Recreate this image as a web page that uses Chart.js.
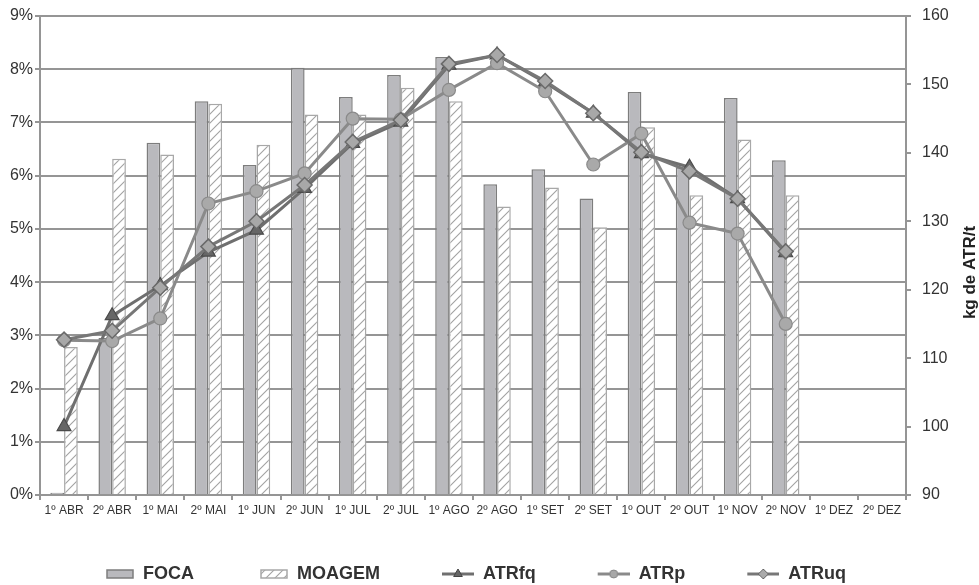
<!DOCTYPE html>
<html>
<head>
<meta charset="utf-8">
<script src="https://cdn.jsdelivr.net/npm/chart.js@4.4.1/dist/chart.umd.min.js"></script>
<style>
  html, body { margin: 0; padding: 0; background: #fff; }
  #wrap { width: 979px; height: 585px; }
</style>
</head>
<body>
<div id="wrap"><canvas id="chart" width="979" height="585"></canvas></div>
<script>
// dados
const categories = ['1º ABR', '2º ABR', '1º MAI', '2º MAI', '1º JUN', '2º JUN', '1º JUL', '2º JUL', '1º AGO',
  '2º AGO', '1º SET', '2º SET', '1º OUT', '2º OUT', '1º NOV', '2º NOV', '1º DEZ', '2º DEZ'];
const foca   = [0.04, 2.95, 6.62, 7.40, 6.20, 8.03, 7.48, 7.89, 8.23, 5.84, 6.12, 5.57, 7.57, 6.16, 7.46, 6.29, null, null];
const moagem = [2.78, 6.32, 6.40, 7.35, 6.58, 7.15, 7.15, 7.65, 7.40, 5.42, 5.78, 5.03, 6.91, 5.63, 6.68, 5.63, null, null];
const atrFq  = [100.0, 116.2, 120.6, 125.5, 128.7, 134.8, 141.4, 144.5, 152.8, 154.3, 150.3, 145.8, 139.9, 137.9, 133.3, 125.4, null, null];
const atrP   = [112.6, 112.5, 115.8, 132.6, 134.4, 137.0, 145.0, 144.9, 149.2, 153.1, 149.0, 138.3, 142.8, 129.8, 128.2, 115.0, null, null];
const atrUq  = [112.7, 114.0, 120.3, 126.3, 130.0, 135.3, 141.6, 144.8, 153.0, 154.3, 150.5, 145.8, 140.1, 137.3, 133.3, 125.6, null, null];
const leftRange  = [0, 9];
const rightRange = [90, 160];

const FONT = "'Liberation Sans', Arial, sans-serif";
const GRID = '#959595';

function makeHatch(ctx) {
  const c = document.createElement('canvas');
  c.width = 9; c.height = 9;
  const g = c.getContext('2d');
  g.fillStyle = '#fff';
  g.fillRect(0, 0, 9, 9);
  g.strokeStyle = '#a2a2a2';
  g.lineWidth = 1.1;
  g.beginPath();
  g.moveTo(0, 9); g.lineTo(9, 0);
  g.moveTo(-3, 3); g.lineTo(3, -3);
  g.moveTo(6, 12); g.lineTo(12, 6);
  g.stroke();
  return ctx.createPattern(c, 'repeat');
}

const ctx = document.getElementById('chart').getContext('2d');

// ícones da legenda (retângulo, hachurado, linha com marcador)
const ICON_W = 90;
function legendIcon(kind, marker) {
  const c = document.createElement('canvas');
  c.width = ICON_W; c.height = 18;
  const g = c.getContext('2d');
  if (kind === 'bar') {
    g.fillStyle = marker === 'hatch' ? makeHatch(g) : '#b9b9bd';
    g.strokeStyle = marker === 'hatch' ? '#a8a8a8' : '#7d7d7d';
    g.lineWidth = 1.5;
    g.fillRect(ICON_W - 27, 5, 26, 8);
    g.strokeRect(ICON_W - 27, 5, 26, 8);
  } else {
    g.strokeStyle = marker.line;
    g.lineWidth = 3;
    g.beginPath();
    g.moveTo(ICON_W - 32, 9); g.lineTo(ICON_W, 9);
    g.stroke();
    g.fillStyle = marker.fill;
    g.strokeStyle = marker.border;
    g.lineWidth = 1;
    Chart.helpers.drawPoint(g, { pointStyle: marker.style, radius: marker.r, borderWidth: 1, rotation: 0 }, ICON_W - 16, 9);
  }
  return c;
}

const icons = [
  legendIcon('bar', 'solid'),
  legendIcon('bar', 'hatch'),
  legendIcon('line', { line: '#6f6f6f', fill: '#666', border: '#444', style: 'triangle', r: 5 }),
  legendIcon('line', { line: '#8a8a8a', fill: '#a8a8a8', border: '#888', style: 'circle', r: 4 }),
  legendIcon('line', { line: '#777', fill: '#aaa', border: '#666', style: 'rectRot', r: 5 })
];

const axisTitle = {
  id: 'axisTitle',
  afterDraw(chart) {
    const s = chart.scales.y2;
    const c = chart.ctx;
    c.save();
    c.translate(970, (s.top + s.bottom) / 2 + 17);
    c.rotate(-Math.PI / 2);
    c.font = 'bold 17px ' + FONT;
    c.fillStyle = '#222';
    c.textAlign = 'center';
    c.textBaseline = 'middle';
    c.fillText('kg de ATR/t', 0, 0);
    c.restore();
  }
};

new Chart(ctx, {
  type: 'bar',
  data: {
    labels: categories,
    datasets: [
      { label: 'FOCA', data: foca, yAxisID: 'y', order: 10,
        backgroundColor: '#b9b9bd', borderColor: '#7d7d7d', borderWidth: 1.5,
        categoryPercentage: 0.57, barPercentage: 1 },
      { label: 'MOAGEM', data: moagem, yAxisID: 'y', order: 11,
        backgroundColor: makeHatch(ctx), borderColor: '#a8a8a8', borderWidth: 1.5,
        categoryPercentage: 0.57, barPercentage: 1 },
      { type: 'line', label: 'ATRfq', data: atrFq, yAxisID: 'y2', order: 3,
        borderColor: '#6f6f6f', borderWidth: 3, pointStyle: 'triangle', pointRadius: 8,
        pointBackgroundColor: '#666', pointBorderColor: '#4a4a4a', pointBorderWidth: 1.2, tension: 0 },
      { type: 'line', label: 'ATRp', data: atrP, yAxisID: 'y2', order: 2,
        borderColor: '#8a8a8a', borderWidth: 3, pointStyle: 'circle', pointRadius: 6.5,
        pointBackgroundColor: '#a9a9a9', pointBorderColor: '#8a8a8a', pointBorderWidth: 1.2, tension: 0 },
      { type: 'line', label: 'ATRuq', data: atrUq, yAxisID: 'y2', order: 1,
        borderColor: '#777', borderWidth: 3, pointStyle: 'rectRot', pointRadius: 7.5,
        pointBackgroundColor: '#a8a8a8', pointBorderColor: '#6a6a6a', pointBorderWidth: 1.5, tension: 0 }
    ]
  },
  options: {
    responsive: false,
    animation: false,
    layout: { padding: { top: 16, right: 0, bottom: -8, left: 0 } },
    plugins: {
      tooltip: { enabled: false },
      legend: {
        position: 'bottom',
        align: 'start',
        fullSize: false,
        labels: {
          usePointStyle: true,
          pointStyleWidth: ICON_W,
          padding: 4,
          color: '#333',
          font: { family: FONT, size: 18, weight: 'bold' },
          sort: (a, b) => a.datasetIndex - b.datasetIndex,
          generateLabels(chart) {
            const items = Chart.defaults.plugins.legend.labels.generateLabels(chart);
            items.forEach(it => { it.pointStyle = icons[it.datasetIndex]; it.rotation = 0; });
            return items;
          }
        }
      }
    },
    scales: {
      x: {
        offset: true,
        grid: { display: true, drawOnChartArea: false, drawTicks: true, tickLength: 5, color: GRID, lineWidth: 2 },
        border: { display: true, color: GRID, width: 2 },
        ticks: { autoSkip: false, maxRotation: 0, minRotation: 0, padding: 3, color: '#333',
          font: { family: FONT, size: 12 } },
        afterFit(scale) { scale.height = 66; }
      },
      y: {
        position: 'left',
        min: leftRange[0], max: leftRange[1],
        grid: { color: GRID, lineWidth: 2, tickLength: 5 },
        border: { display: true, color: GRID, width: 2 },
        ticks: { stepSize: 1, padding: 2, color: '#333', font: { family: FONT, size: 16 },
          callback: v => v + '%' },
        afterFit(scale) { scale.width = 40; scale.paddingTop = 10; scale.paddingBottom = 10; }
      },
      y2: {
        position: 'right',
        min: rightRange[0], max: rightRange[1],
        grid: { drawOnChartArea: false, color: GRID, lineWidth: 2, tickLength: 5 },
        border: { display: true, color: GRID, width: 2 },
        ticks: { stepSize: 10, padding: 11, color: '#333', font: { family: FONT, size: 16 } },
        afterFit(scale) { scale.width = 73; scale.paddingTop = 10; scale.paddingBottom = 10; }
      }
    }
  },
  plugins: [axisTitle]
});
</script>
</body>
</html>
